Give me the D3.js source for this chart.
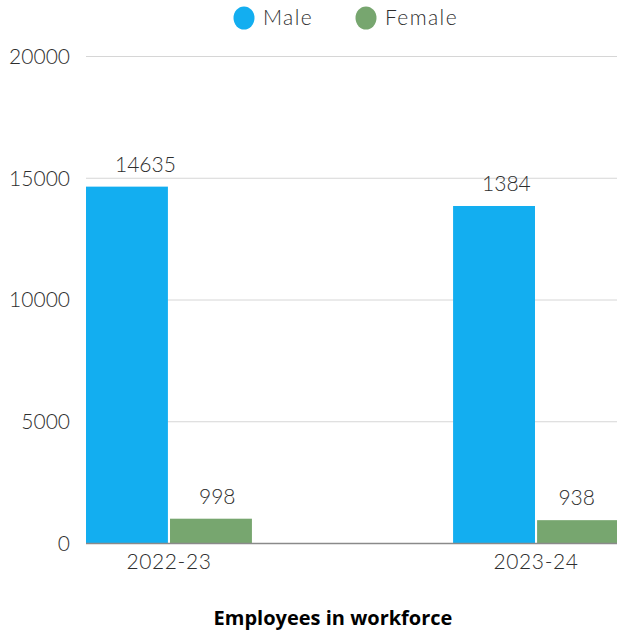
<!DOCTYPE html>
<html>
<head>
<meta charset="utf-8">
<script src="https://cdn.jsdelivr.net/npm/d3@7/dist/d3.min.js"></script>
<style>
  html, body { margin: 0; padding: 0; background: #fff; }
  svg { display: block; }
  .light { font-family: Lato, "Open Sans", sans-serif; font-weight: 300; fill: #2e2e2e; }
</style>
</head>
<body>
<svg id="chart" width="617" height="635"></svg>
<script>
// Workforce headcount by year and gender
const years = ["2022-23", "2023-24"];
const seriesNames = ["Male", "Female"];
const maleValues = [14635, 13840];
const femaleValues = [998, 938];
// Data labels as printed above each bar
const maleLabels = ["14635", "1384"];
const femaleLabels = ["998", "938"];
const yTicks = [0, 5000, 10000, 15000, 20000];
const colors = ["#13aef0", "#77a66f"];
const title = "Employees in workforce";

(function draw() {
  const svg = d3.select("#chart");
  const W = 617;
  const m = { left: 86, right: 619, top: 56, bottom: 543 };
  const fs = 21;

  const x0 = d3.scaleBand().domain(years).range([m.left, m.right]).paddingInner(0.548).paddingOuter(0);
  const x1 = d3.scaleBand().domain(seriesNames).range([0, x0.bandwidth()]).paddingInner(0.025);
  const y = d3.scaleLinear().domain([0, 20000]).range([m.bottom, m.top]);

  // Horizontal gridlines
  svg.append("g").selectAll("line").data(yTicks.filter(t => t > 0)).join("line")
    .attr("x1", m.left).attr("x2", W)
    .attr("y1", d => y(d) + 0.5).attr("y2", d => y(d) + 0.5)
    .attr("stroke", "#d6d6d6").attr("stroke-width", 1);

  // Y axis labels
  const yAxis = d3.axisLeft(y).tickValues(yTicks).tickSize(0).tickPadding(16).tickFormat(d3.format("d"));
  const yg = svg.append("g").attr("transform", `translate(${m.left},0)`).call(yAxis);
  yg.select(".domain").remove();
  yg.selectAll("text").attr("class", "light").attr("font-size", fs).attr("dy", "0.35em");

  const rows = years.map((yr, i) => ({
    year: yr,
    bars: [
      { s: "Male", v: maleValues[i], label: maleLabels[i], c: colors[0] },
      { s: "Female", v: femaleValues[i], label: femaleLabels[i], c: colors[1] }
    ]
  }));

  const groups = svg.append("g").selectAll("g").data(rows).join("g")
    .attr("transform", d => `translate(${x0(d.year)},0)`);

  groups.selectAll("rect").data(d => d.bars).join("rect")
    .attr("x", d => x1(d.s)).attr("width", x1.bandwidth())
    .attr("y", d => y(d.v)).attr("height", d => y(0) - y(d.v))
    .attr("fill", d => d.c);

  // Value labels: start a little inside the bar, kept clear of the right edge
  groups.each(function (g) {
    const gx = x0(g.year);
    d3.select(this).selectAll("text.val").data(g.bars).join("text")
      .attr("class", "val light")
      .attr("y", d => y(d.v) - 15)
      .attr("font-size", fs)
      .text(d => d.label)
      .attr("x", function (d) {
        const w = this.getComputedTextLength();
        const x = x1(d.s) + 29;
        return Math.min(x, W - 22 - w - gx);
      });
  });

  // Baseline
  svg.append("line").attr("x1", m.left).attr("x2", W).attr("y1", m.bottom + 0.5).attr("y2", m.bottom + 0.5)
    .attr("stroke", "#8a8a8a").attr("stroke-width", 1.3);

  // X axis labels
  const xAxis = d3.axisBottom(x0).tickSize(0).tickPadding(11);
  const xg = svg.append("g").attr("transform", `translate(0,${m.bottom})`).call(xAxis);
  xg.select(".domain").remove();
  xg.selectAll("text").attr("class", "light").attr("font-size", fs).attr("letter-spacing", 0.6);

  // Legend
  const legend = svg.append("g");
  const legendX = [244, 366];
  seriesNames.forEach((n, i) => {
    legend.append("ellipse").attr("cx", legendX[i]).attr("cy", 18).attr("rx", 10.5).attr("ry", 11.5).attr("fill", colors[i]);
    legend.append("text").attr("class", "light").attr("x", legendX[i] + 19).attr("y", 18).attr("dy", "0.35em")
      .attr("font-size", fs).attr("letter-spacing", 1.4).text(n);
  });

  // Title
  svg.append("text").attr("x", 333).attr("y", 618).attr("dy", "0.35em")
    .attr("text-anchor", "middle").attr("font-family", "'Open Sans', sans-serif")
    .attr("font-weight", 700).attr("font-size", 20).attr("fill", "#000")
    .text(title);
})();
</script>
</body>
</html>
